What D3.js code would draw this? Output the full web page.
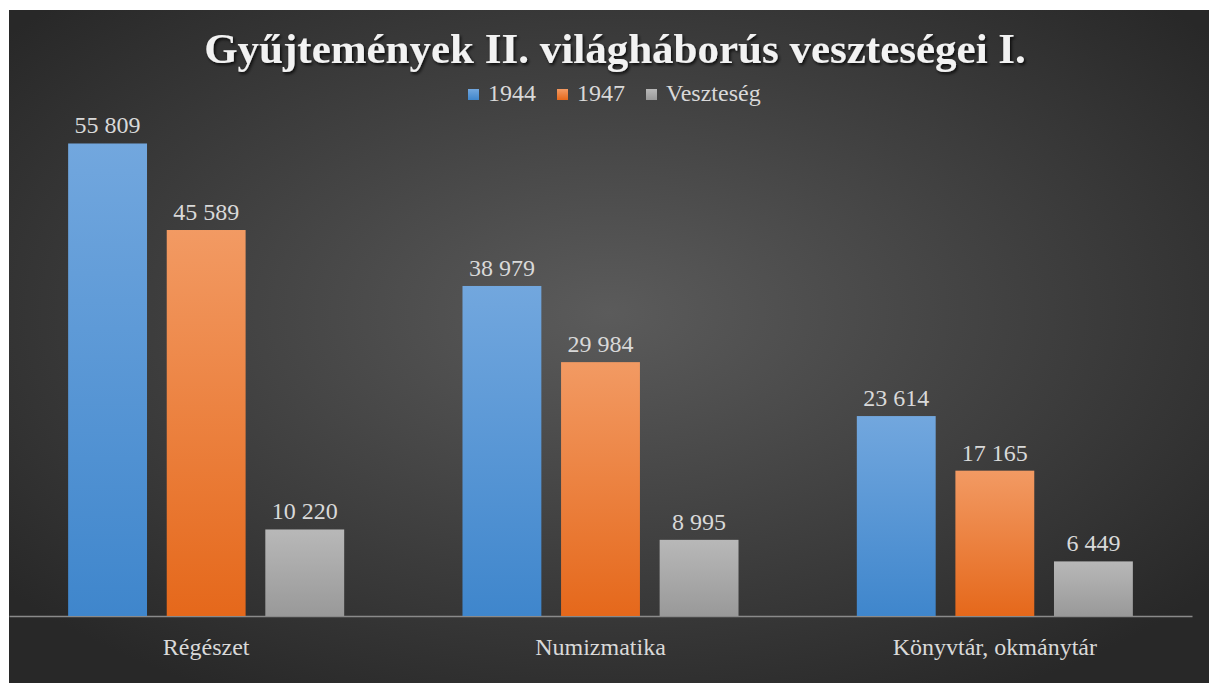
<!DOCTYPE html>
<html>
<head>
<meta charset="utf-8">
<script src="https://cdn.jsdelivr.net/npm/d3@7"></script>
<style>
  body { margin: 0; background: #ffffff; }
  svg { display: block; }
  svg text { font-family: "Liberation Serif", "DejaVu Serif", serif; }
</style>
</head>
<body>
<svg id="drawing_region"></svg>
<script>
const categories = ['Régészet', 'Numizmatika', 'Könyvtár, okmánytár'];
const seriesNames = ['1944', '1947', 'Veszteség'];
const values1944 = [55809, 38979, 23614];
const values1947 = [45589, 29984, 17165];
const valuesLoss = [10220, 8995, 6449];
const yTicks = [0, 60000];

const width = 1209, height = 683;
const frame = {left: 9, top: 10};
const margin = {top: 108, bottom: 67, left: 9, right: 17};
const serif = '"Liberation Serif", "DejaVu Serif", serif';

const colors = {
    '1944': ['#72a7de', '#3f86cc'],
    '1947': ['#f29a63', '#e5681b'],
    'Veszteség': ['#b8b8b8', '#999999']
};

const seriesValues = [values1944, values1947, valuesLoss];
const data = categories.map( (c, i) => ({
    category: c,
    items: seriesNames.map( (s, j) => ({ series: s, value: seriesValues[j][i] }) )
}));

const svg = d3.select('#drawing_region')
    .attr('width', width)
    .attr('height', height);

const defs = svg.append('defs');

const bg = defs.append('radialGradient')
    .attr('id', 'bg')
    .attr('cx', '50%').attr('cy', '45%').attr('r', '65%');
bg.append('stop').attr('offset', '0%').attr('stop-color', '#5b5b5b');
bg.append('stop').attr('offset', '100%').attr('stop-color', '#282828');

seriesNames.forEach( (s, j) => {
    const g = defs.append('linearGradient')
        .attr('id', 'grad' + j)
        .attr('x1', 0).attr('y1', 0).attr('x2', 0).attr('y2', 1);
    g.append('stop').attr('offset', '0%').attr('stop-color', colors[s][0]);
    g.append('stop').attr('offset', '100%').attr('stop-color', colors[s][1]);
});

const shadow = defs.append('filter').attr('id', 'shadow')
    .attr('x', '-5%').attr('y', '-20%').attr('width', '110%').attr('height', '150%');
shadow.append('feDropShadow')
    .attr('dx', 1.5).attr('dy', 2).attr('stdDeviation', 1.5)
    .attr('flood-color', '#000').attr('flood-opacity', 0.8);

svg.append('rect')
    .attr('x', frame.left).attr('y', frame.top)
    .attr('width', width - frame.left).attr('height', height - frame.top)
    .attr('fill', 'url(#bg)');

const x0 = d3.scaleBand()
    .domain(categories)
    .range([margin.left, width - margin.right])
    .padding(0);

const x1 = d3.scaleBand()
    .domain(seriesNames)
    .range([x0.bandwidth() * 0.15, x0.bandwidth() * 0.85])
    .paddingInner(0.2)
    .paddingOuter(0);

const y = d3.scaleLinear()
    .domain(d3.extent(yTicks))
    .range([height - margin.bottom, margin.top]);

const fmt = d3.formatLocale({decimal: ',', thousands: ' ', grouping: [3], currency: ['', '']}).format(',d');

// axis
const xAxis = svg.append('g')
    .attr('transform', `translate(0, ${y(0)})`)
    .call(d3.axisBottom(x0).tickSize(0));
xAxis.attr('font-family', serif);
xAxis.select('.domain').attr('stroke', '#8a8a8a').attr('stroke-width', 1.5);
xAxis.selectAll('text')
    .attr('y', 39)
    .attr('dy', 0)
    .attr('fill', '#d9d9d9')
    .attr('font-size', 24)
    .attr('font-family', serif);

const groups = svg.selectAll('.group')
    .data(data)
    .join('g')
    .attr('class', 'group')
    .attr('transform', d => `translate(${x0(d.category)}, 0)`);

groups.selectAll('rect')
    .data(d => d.items)
    .join('rect')
    .attr('x', d => x1(d.series))
    .attr('y', d => y(d.value))
    .attr('width', x1.bandwidth())
    .attr('height', d => y(0) - y(d.value))
    .attr('fill', (d, i) => `url(#grad${i})`);

groups.selectAll('text')
    .data(d => d.items)
    .join('text')
    .attr('x', d => x1(d.series) + x1.bandwidth() / 2)
    .attr('y', d => y(d.value) - 10)
    .attr('text-anchor', 'middle')
    .attr('fill', '#d9d9d9')
    .attr('font-size', 24)
    .attr('font-family', serif)
    .text(d => fmt(d.value));

// title
svg.append('text')
    .attr('x', 615)
    .attr('y', 63)
    .attr('text-anchor', 'middle')
    .attr('fill', '#f2f2f2')
    .attr('font-size', 43)
    .attr('font-weight', 'bold')
    .attr('font-family', serif)
    .attr('filter', 'url(#shadow)')
    .text('Gyűjtemények II. világháborús veszteségei I.');

// legend
const legend = svg.append('g').attr('transform', 'translate(468, 94)');
let lx = 0;
seriesNames.forEach( (s, j) => {
    const item = legend.append('g').attr('transform', `translate(${lx}, 0)`);
    item.append('rect')
        .attr('x', 0).attr('y', -5)
        .attr('width', 11).attr('height', 11)
        .attr('fill', `url(#grad${j})`);
    const t = item.append('text')
        .attr('x', 20).attr('y', 7)
        .attr('fill', '#d9d9d9')
        .attr('font-size', 24)
        .attr('font-family', serif)
        .text(s);
    lx += 20 + t.node().getComputedTextLength() + 21;
});
</script>
</body>
</html>
